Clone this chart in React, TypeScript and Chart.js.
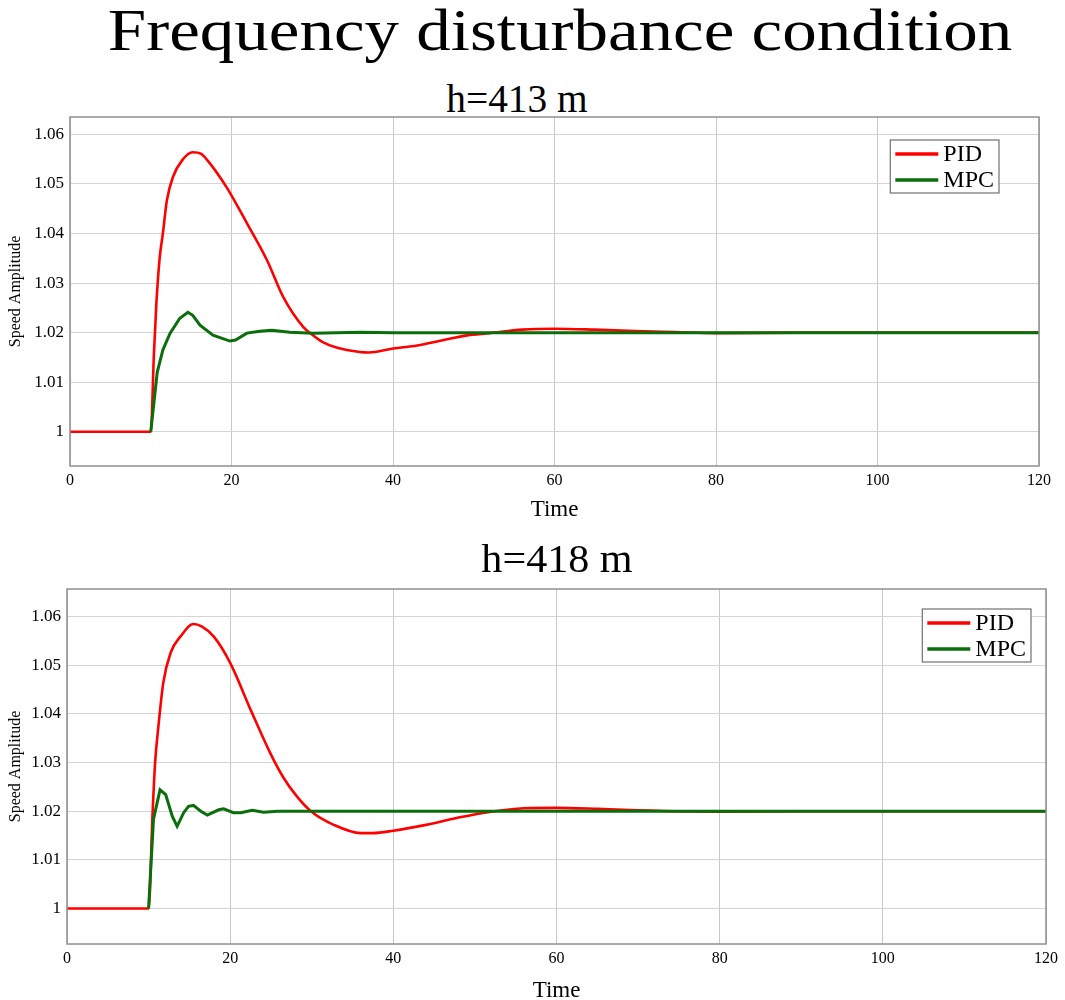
import { useEffect, useRef } from 'react';
import { Chart, registerables } from 'chart.js';

Chart.register(...registerables);

const SERIF = '"Liberation Serif", "Times New Roman", serif';

const xTicks = [0, 20, 40, 60, 80, 100, 120];
const yTicks = [1, 1.01, 1.02, 1.03, 1.04, 1.05, 1.06];

// h=413 m
const pid413T = [0, 10, 10.4, 10.7, 11.1, 11.5, 12, 12.75, 13.9, 15.2, 16.2, 17, 19.4, 21.9, 24.4, 26.4, 28.9, 30, 31.3, 33, 35.9, 37, 40, 43, 46, 49, 52, 56, 60, 65, 70, 75, 80, 90, 100, 120];
const pid413V = [1, 1, 1.016, 1.026, 1.035, 1.04, 1.0467, 1.0514, 1.0548, 1.0564, 1.0561, 1.0548, 1.0493, 1.0421, 1.0346, 1.0272, 1.0211, 1.0196, 1.0181, 1.017, 1.0161, 1.016, 1.0168, 1.0174, 1.0184, 1.0194, 1.0199, 1.0206, 1.0208, 1.0206, 1.0203, 1.0201, 1.0199, 1.02, 1.02, 1.02];
// MPC trace starts at the disturbance (t=10)
const mpc413T = [10, 10.8, 11.5, 12.4, 13.6, 14.6, 15.2, 16.1, 17.7, 19.8, 20.5, 21.9, 23.5, 25, 27.2, 30.1, 33, 36, 40, 120];
const mpc413V = [1, 1.012, 1.0165, 1.0199, 1.0229, 1.0241, 1.0235, 1.0215, 1.0195, 1.0183, 1.0185, 1.0199, 1.0203, 1.0205, 1.0201, 1.0199, 1.02, 1.0201, 1.02, 1.02];

// h=418 m
const pid418T = [0, 10, 10.5, 10.8, 11.2, 11.8, 12.7, 13.9, 15.5, 16.5, 18, 20, 22.5, 24.9, 26.5, 28.2, 29.9, 32.7, 36, 37.5, 40, 44, 48, 52, 56, 60, 65, 70, 80, 90, 120];
const pid418V = [1, 1, 1.02, 1.03, 1.0374, 1.0464, 1.0526, 1.0559, 1.0585, 1.058, 1.0559, 1.0505, 1.0409, 1.032, 1.027, 1.023, 1.02, 1.0172, 1.0155, 1.0155, 1.016, 1.0172, 1.0187, 1.0199, 1.0206, 1.0207, 1.0205, 1.0202, 1.0199, 1.02, 1.02];
const mpc418T = [10, 10.6, 11.4, 12.1, 12.9, 13.5, 14.3, 14.9, 15.5, 16.4, 17.2, 18.6, 19.2, 20.4, 21.3, 22.7, 24.1, 25.8, 30, 120];
const mpc418V = [1, 1.0183, 1.0244, 1.0234, 1.019, 1.0169, 1.0197, 1.021, 1.0212, 1.02, 1.0192, 1.0203, 1.0205, 1.0197, 1.0197, 1.0202, 1.0198, 1.02, 1.02, 1.02];

const toPts = (t: number[], v: number[]) => t.map((x, i) => ({ x, y: v[i] }));

// draws the full box round the plot area and a MATLAB-like legend inside it
const frameLegend = {
  id: 'frameLegend',
  afterDatasetsDraw(chart: any, _args: any, opts: any) {
    const { ctx, chartArea: a } = chart;
    ctx.save();
    ctx.strokeStyle = '#8f8f8f';
    ctx.lineWidth = 1.5;
    ctx.strokeRect(a.left, a.top, a.right - a.left, a.bottom - a.top);

    ctx.font = `24px ${SERIF}`;
    const sets = chart.data.datasets;
    const tw = Math.max(...sets.map((d: any) => ctx.measureText(d.label).width));
    const w = 5 + 43 + 5 + tw + 5;
    const h = 53;
    const x0 = a.right - opts.right - w;
    const y0 = a.top + opts.top;
    ctx.fillStyle = '#fff';
    ctx.fillRect(x0, y0, w, h);
    ctx.strokeStyle = '#707070';
    ctx.lineWidth = 1.2;
    ctx.strokeRect(x0, y0, w, h);
    sets.forEach((d: any, i: number) => {
      const cy = y0 + 14 + i * 26;
      ctx.strokeStyle = d.borderColor;
      ctx.lineWidth = 3.5;
      ctx.beginPath();
      ctx.moveTo(x0 + 5, cy);
      ctx.lineTo(x0 + 48, cy);
      ctx.stroke();
      ctx.fillStyle = '#000';
      ctx.textBaseline = 'middle';
      ctx.fillText(d.label, x0 + 53, cy + 1);
    });
    ctx.restore();
  },
};

type Props = {
  pid: { x: number; y: number }[];
  mpc: { x: number; y: number }[];
  yMin: number;
  yMax: number;
  yAxisW: number;
  padTop: number;
  padRight: number;
  xAxisH: number;
  titlePad: number;
  legendRight: number;
  legendTop: number;
};

function SpeedChart(p: Props) {
  const canvasRef = useRef<HTMLCanvasElement>(null);

  useEffect(() => {
    if (!canvasRef.current) return;
    const chart = new Chart(canvasRef.current, {
      type: 'line',
      data: {
        datasets: [
          {
            label: 'PID',
            data: p.pid,
            borderColor: '#ff0000',
            borderWidth: 2.6,
            pointRadius: 0,
            cubicInterpolationMode: 'monotone',
            order: 1,
          },
          {
            label: 'MPC',
            data: p.mpc,
            borderColor: '#0a6e0a',
            borderWidth: 3,
            pointRadius: 0,
            tension: 0,
            order: 0,
          },
        ],
      },
      options: {
        animation: false,
        responsive: true,
        maintainAspectRatio: false,
        layout: { padding: { top: p.padTop, right: p.padRight, left: 0, bottom: 0 } },
        plugins: {
          legend: { display: false },
          tooltip: { enabled: false },
          frameLegend: { right: p.legendRight, top: p.legendTop },
        } as any,
        scales: {
          x: {
            type: 'linear',
            min: 0,
            max: 120,
            afterBuildTicks: (s: any) => { s.ticks = xTicks.map((v) => ({ value: v })); },
            afterFit: (s: any) => { s.height = p.xAxisH; s.paddingLeft = 0; s.paddingRight = 0; },
            ticks: { color: '#000', font: { family: SERIF, size: 16 }, padding: 5, maxRotation: 0, autoSkip: false },
            grid: { color: '#c8c8c8', lineWidth: 1, drawTicks: false },
            border: { display: false },
            title: { display: true, text: 'Time', color: '#000', font: { family: SERIF, size: 23 }, padding: { top: 0, bottom: p.titlePad } },
          },
          y: {
            type: 'linear',
            min: p.yMin,
            max: p.yMax,
            afterBuildTicks: (s: any) => { s.ticks = yTicks.map((v) => ({ value: v })); },
            afterFit: (s: any) => { s.width = p.yAxisW; },
            ticks: {
              color: '#000',
              font: { family: SERIF, size: 17 },
              padding: 6,
              callback: (v: any) => (Number(v) === 1 ? '1' : Number(v).toFixed(2)),
            },
            grid: { color: '#d4d4d4', lineWidth: 1, drawTicks: false },
            border: { display: false },
            title: { display: true, text: 'Speed Amplitude', color: '#000', font: { family: SERIF, size: 16 }, padding: { top: 6, bottom: 0 } },
          },
        },
      },
      plugins: [frameLegend],
    });
    return () => { chart.destroy(); };
  }, []);

  return <canvas ref={canvasRef} />;
}

const textStyle = (left: number, top: number, size: number, sx: number): any => ({
  position: 'absolute',
  left,
  top,
  fontFamily: SERIF,
  fontSize: size,
  lineHeight: `${size}px`,
  whiteSpace: 'nowrap',
  color: '#000',
  transform: `translateX(-50%) scaleX(${sx})`,
});

export default function App() {
  return (
    <div style={{ position: 'absolute', left: 0, top: 0, width: 1065, height: 1000, background: '#fff', overflow: 'hidden' }}>
      <div style={textStyle(560, 0, 60, 1.15)}>Frequency disturbance condition</div>
      <div style={textStyle(517, 78, 41, 0.96)}>h=413 m</div>
      <div style={{ position: 'absolute', left: 0, top: 100, width: 1065, height: 440 }}>
        <SpeedChart
          pid={toPts(pid413T, pid413V)}
          mpc={toPts(mpc413T, mpc413V)}
          yMin={0.9931}
          yMax={1.0635}
          yAxisW={70}
          padTop={17}
          padRight={26}
          xAxisH={74}
          titlePad={16}
          legendRight={40}
          legendTop={23}
        />
      </div>
      <div style={textStyle(557, 539, 39, 1.08)}>h=418 m</div>
      <div style={{ position: 'absolute', left: 0, top: 570, width: 1065, height: 440 }}>
        <SpeedChart
          pid={toPts(pid418T, pid418V)}
          mpc={toPts(mpc418T, mpc418V)}
          yMin={0.9927}
          yMax={1.0657}
          yAxisW={67}
          padTop={19}
          padRight={19}
          xAxisH={66}
          titlePad={5}
          legendRight={15}
          legendTop={20}
        />
      </div>
    </div>
  );
}
